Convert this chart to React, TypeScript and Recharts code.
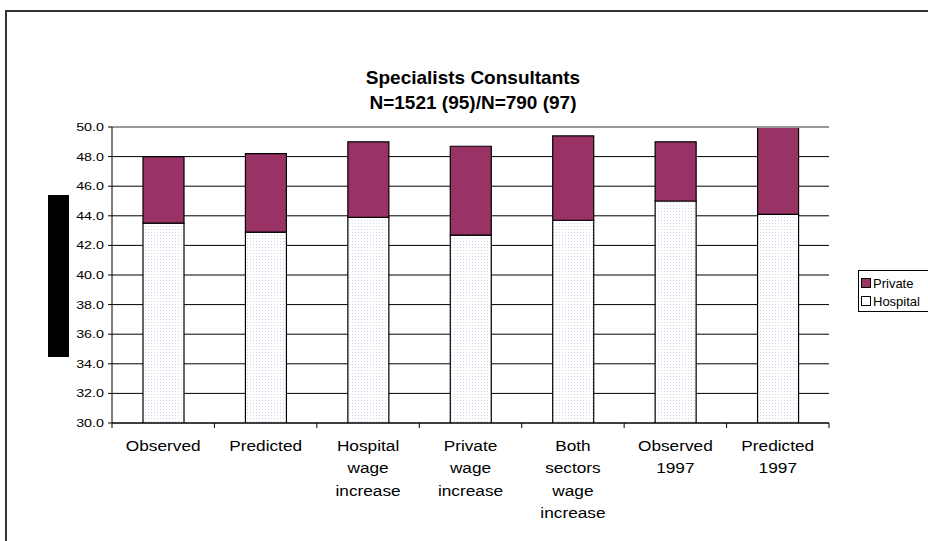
import { BarChart, Bar, XAxis, YAxis, CartesianGrid, ReferenceLine } from "recharts";

const categories = [
  "Observed",
  "Predicted",
  "Hospital\nwage\nincrease",
  "Private\nwage\nincrease",
  "Both\nsectors\nwage\nincrease",
  "Observed\n1997",
  "Predicted\n1997",
];
const hospitalHours = [43.5, 42.9, 43.9, 42.7, 43.7, 45.0, 44.1];
const privateHours = [4.5, 5.3, 5.1, 6.0, 5.7, 4.0, 6.3];
const yTicks = [30, 32, 34, 36, 38, 40, 42, 44, 46, 48, 50];
const titleLines = ["Specialists Consultants", "N=1521 (95)/N=790 (97)"];
const legendItems = [
  { name: "Private", fill: "#993366" },
  { name: "Hospital", fill: "#ffffff" },
];

const data = categories.map((name, i) => ({
  name,
  hospital: hospitalHours[i],
  private: privateHours[i],
}));

const FONT = '"Liberation Sans", Arial, sans-serif';

const YTick = ({ x, y, payload }: any) => (
  <g transform={`translate(${x},${y})`}>
    <text x={0} y={0} dy={4} textAnchor="end" fontSize={11} fill="#000" fontFamily={FONT} transform="scale(1.3,1)">
      {Number(payload.value).toFixed(1)}
    </text>
  </g>
);

const XTick = ({ x, y, payload, index, visibleTicksCount }: any) => {
  const lines = String(payload.value).split("\n");
  const half = payload.offset ?? 0;
  return (
    <g>
      <line x1={x - half} x2={x - half} y1={y} y2={y + 5} stroke="#000" />
      {index === visibleTicksCount - 1 && (
        <line x1={x + half} x2={x + half} y1={y} y2={y + 5} stroke="#000" />
      )}
      <g transform={`translate(${x},${y + 28})`}>
        <text textAnchor="middle" fontSize={15} fill="#000" fontFamily={FONT} transform="scale(1.15,1)">
          {lines.map((l, i) => (
            <tspan key={i} x={0} dy={i === 0 ? 0 : 22.3}>
              {l}
            </tspan>
          ))}
        </text>
      </g>
    </g>
  );
};

export default function App() {
  return (
    <div
      style={{
        position: "absolute",
        left: 0,
        top: 0,
        width: 928,
        height: 541,
        overflow: "hidden",
        background: "#fff",
        fontFamily: FONT,
      }}
    >
      <div
        style={{
          position: "absolute",
          left: 5,
          top: 10,
          width: 940,
          height: 560,
          border: "2px solid #333",
        }}
      />
      <div
        style={{
          position: "absolute",
          left: 0,
          top: 65,
          width: 946,
          textAlign: "center",
          fontWeight: "bold",
          fontSize: 19,
          lineHeight: "25px",
          color: "#000",
        }}
      >
        {titleLines.map((t) => (
          <div key={t}>{t}</div>
        ))}
      </div>
      <div
        style={{
          position: "absolute",
          left: 48,
          top: 195,
          width: 21,
          height: 162,
          background: "#000",
        }}
      />
      <BarChart
        width={928}
        height={541}
        data={data}
        margin={{ top: 127, right: 99, left: 62, bottom: 0 }}
        barSize={41}
        style={{ position: "absolute", left: 0, top: 0 }}
      >
        <defs>
          <pattern id="dots" width="3" height="3" patternUnits="userSpaceOnUse">
            <rect width="3" height="3" fill="#ffffff" />
            <rect x="1" y="1" width="1" height="1" fill="#d4d4ec" />
          </pattern>
        </defs>
        <CartesianGrid vertical={false} stroke="#000" />
        <XAxis
          dataKey="name"
          height={118}
          interval={0}
          tickSize={0}
          tickMargin={0}
          tickLine={false}
          axisLine={{ stroke: "#000" }}
          tick={<XTick />}
        />
        <YAxis
          width={50}
          domain={[30, 50]}
          ticks={yTicks}
          allowDataOverflow
          tickSize={4}
          tickMargin={4}
          tickLine={{ stroke: "#000" }}
          axisLine={{ stroke: "#000" }}
          tick={<YTick />}
        />
        <YAxis
          yAxisId="frame"
          orientation="right"
          width={0}
          domain={[30, 50]}
          tick={false}
          tickLine={false}
          axisLine={{ stroke: "#999", strokeWidth: 2 }}
        />
        <ReferenceLine y={50} stroke="#999" strokeWidth={2} />
        <Bar dataKey="hospital" stackId="a" fill="url(#dots)" stroke="#000" strokeWidth={1.2} isAnimationActive={false} />
        <Bar dataKey="private" stackId="a" fill="#993366" stroke="#000" strokeWidth={1.2} isAnimationActive={false} />
      </BarChart>
      <div
        style={{
          position: "absolute",
          left: 858,
          top: 270,
          width: 80,
          height: 42,
          border: "1px solid #000",
          fontSize: 13,
          color: "#000",
          paddingTop: 3,
          boxSizing: "border-box",
        }}
      >
        {legendItems.map((it) => (
          <div key={it.name} style={{ display: "flex", alignItems: "center", height: 18, paddingLeft: 2 }}>
            <span
              style={{
                width: 8,
                height: 8,
                background: it.fill,
                border: "1px solid #000",
                marginRight: 2,
                display: "inline-block",
              }}
            />
            {it.name}
          </div>
        ))}
      </div>
    </div>
  );
}
